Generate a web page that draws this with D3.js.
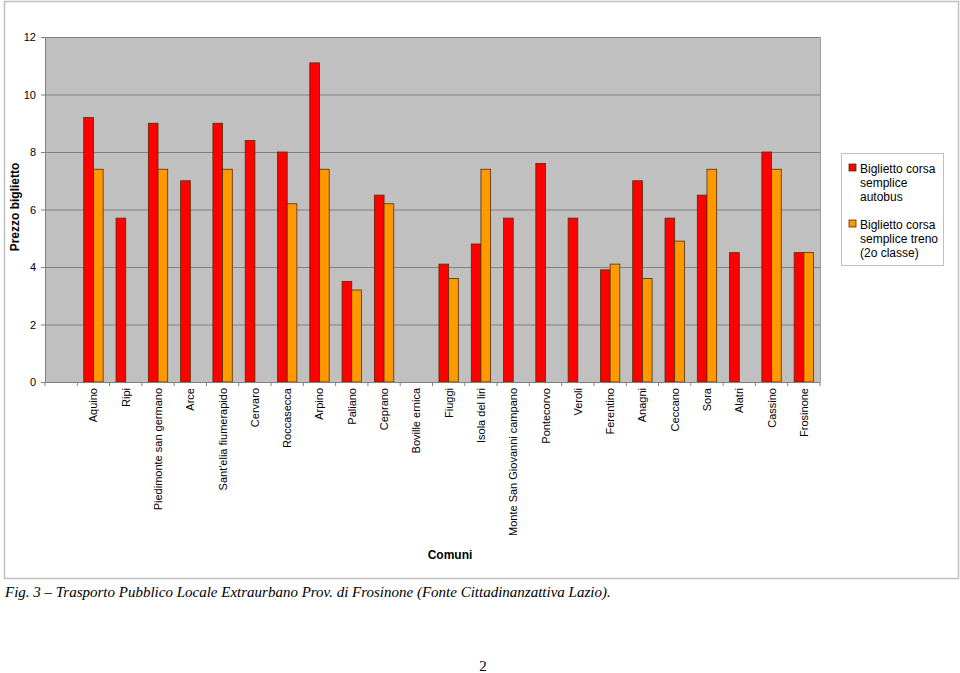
<!DOCTYPE html>
<html><head><meta charset="utf-8">
<script src="https://cdn.jsdelivr.net/npm/d3@7"></script>
<style>body{margin:0;background:#fff}svg{display:block}</style>
</head><body>
<svg id="c" width="960" height="673"></svg>
<script>
const categories = ["", "Aquino", "Ripi", "Piedimonte san germano", "Arce", "Sant'elia fiumerapido", "Cervaro", "Roccasecca", "Arpino", "Paliano", "Ceprano", "Boville ernica", "Fiuggi", "Isola del liri", "Monte San Giovanni campano", "Pontecorvo", "Veroli", "Ferentino", "Anagni", "Ceccano", "Sora", "Alatri", "Cassino", "Frosinone"];
const autobus = [null, 9.2, 5.7, 9.0, 7.0, 9.0, 8.4, 8.0, 11.1, 3.5, 6.5, null, 4.1, 4.8, 5.7, 7.6, 5.7, 3.9, 7.0, 5.7, 6.5, 4.5, 8.0, 4.5];
const treno = [null, 7.4, null, 7.4, null, 7.4, null, 6.2, 7.4, 3.2, 6.2, null, 3.6, 7.4, null, null, null, 4.1, 3.6, 4.9, 7.4, null, 7.4, 4.5];
const seriesNames = ["Biglietto corsa semplice autobus", "Biglietto corsa semplice treno (2o classe)"];
const yTicks = [0, 2, 4, 6, 8, 10, 12];

const svg = d3.select("#c");
const pLeft = 45, pRight = 820, pTop = 37, pBottom = 382;
const colors = ["#ff0000", "#ff9900"];
const sans = "Liberation Sans, Arial, sans-serif";

// outer border
svg.append("rect").attr("x", 4.5).attr("y", 1.5).attr("width", 954).attr("height", 577)
  .attr("fill", "#fff").attr("stroke", "#c0c0c0").attr("stroke-width", 1.5);

const x = d3.scaleBand().domain(d3.range(categories.length)).range([pLeft, pRight]);
const y = d3.scaleLinear().domain([0, 12]).range([pBottom, pTop]);

svg.append("rect").attr("x", pLeft).attr("y", pTop).attr("width", pRight - pLeft).attr("height", pBottom - pTop)
  .attr("fill", "#c0c0c0");

// gridlines
svg.append("g").selectAll("line").data(yTicks.filter(d => d > 0)).join("line")
  .attr("x1", pLeft).attr("x2", pRight).attr("y1", d => y(d) + 0.5).attr("y2", d => y(d) + 0.5)
  .attr("stroke", "#808080").attr("stroke-width", 1);
svg.append("line").attr("x1", pRight + 0.5).attr("x2", pRight + 0.5).attr("y1", pTop).attr("y2", pBottom).attr("stroke", "#a0a0a0");

// bars
const bw = x.bandwidth() * 0.3;
const off = x.bandwidth() * 0.2;
[autobus, treno].forEach((s, si) => {
  svg.append("g").selectAll("rect").data(s.map((v, i) => ({v, i})).filter(d => d.v != null)).join("rect")
    .attr("x", d => x(d.i) + off + si * bw)
    .attr("y", d => y(d.v))
    .attr("width", bw)
    .attr("height", d => y(0) - y(d.v))
    .attr("fill", colors[si]).attr("stroke", "#5a2a00").attr("stroke-width", 0.8);
});

// y axis
const ya = d3.axisLeft(y).tickValues(yTicks).tickSize(4).tickPadding(5);
const yg = svg.append("g").attr("transform", `translate(${pLeft},0)`).call(ya);
yg.select(".domain").attr("stroke", "#808080");
yg.selectAll(".tick line").attr("stroke", "#808080");
yg.selectAll("text").attr("font-family", sans).attr("font-size", 11).attr("fill", "#000");

// x axis
svg.append("line").attr("x1", pLeft).attr("x2", pRight).attr("y1", pBottom + 0.5).attr("y2", pBottom + 0.5).attr("stroke", "#808080");
svg.append("g").selectAll("line").data(d3.range(categories.length + 1)).join("line")
  .attr("x1", d => pLeft + d * x.step()).attr("x2", d => pLeft + d * x.step())
  .attr("y1", pBottom).attr("y2", pBottom + 4).attr("stroke", "#808080");
svg.append("g").selectAll("text").data(categories).join("text")
  .attr("transform", (d, i) => `translate(${x(i) + x.bandwidth() / 2 + 4},${pBottom + 6}) rotate(-90)`)
  .attr("text-anchor", "end")
  .attr("font-family", sans).attr("font-size", 11)
  .text(d => d);

// axis titles
svg.append("text").attr("transform", "translate(19,207) rotate(-90)").attr("text-anchor", "middle")
  .attr("font-family", sans).attr("font-size", 12).attr("font-weight", "bold").text("Prezzo biglietto");
svg.append("text").attr("x", 450).attr("y", 559).attr("text-anchor", "middle")
  .attr("font-family", sans).attr("font-size", 12).attr("font-weight", "bold").text("Comuni");

// legend
const lg = svg.append("g");
lg.append("rect").attr("x", 841.5).attr("y", 153.5).attr("width", 102).attr("height", 112)
  .attr("fill", "#fff").attr("stroke", "#c0c0c0");
const legendLines = [["Biglietto corsa", "semplice", "autobus"], ["Biglietto corsa", "semplice treno", "(2o classe)"]];
legendLines.forEach((lines, i) => {
  const y0 = 173 + i * 56;
  lg.append("rect").attr("x", 849).attr("y", y0 - 9).attr("width", 7).attr("height", 7)
    .attr("fill", colors[i]).attr("stroke", "#5a2a00").attr("stroke-width", 0.8);
  lines.forEach((t, j) => lg.append("text").attr("x", 860).attr("y", y0 + j * 14)
    .attr("font-family", sans).attr("font-size", 12).text(t));
});

// caption
svg.append("text").attr("x", 5).attr("y", 597)
  .attr("font-family", "Liberation Serif, Times New Roman, serif").attr("font-size", 15).attr("font-style", "italic")
  .text("Fig. 3 \u2013 Trasporto Pubblico Locale Extraurbano Prov. di Frosinone (Fonte Cittadinanzattiva Lazio).");
svg.append("text").attr("x", 483).attr("y", 671).attr("text-anchor", "middle")
  .attr("font-family", "Liberation Serif, Times New Roman, serif").attr("font-size", 15).text("2");
</script>
</body></html>
